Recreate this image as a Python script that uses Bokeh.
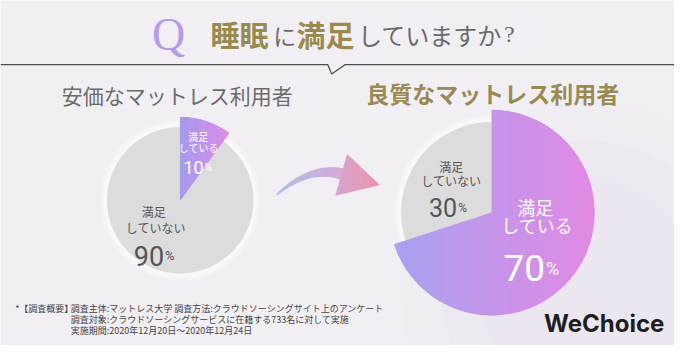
import numpy as np
from bokeh.plotting import figure
from bokeh.models import Range1d
from bokeh.core.properties import value
from bokeh.embed import file_html
from bokeh.resources import INLINE

# ---------------- data ----------------
question_parts = ["睡眠", "に", "満足", "していますか", "?"]
group_labels = ["安価なマットレス利用者", "良質なマットレス利用者"]
satisfied_pct = [10, 70]
unsatisfied_pct = [90, 30]
label_sat = ["満足", "している"]
label_unsat = ["満足", "していない"]
footnote_head = "*【調査概要】"
footnote_lines = [
    "調査主体:マットレス大学 調査方法:クラウドソーシングサイト上のアンケート",
    "調査対象:クラウドソーシングサービスに在籍する733名に対して実施",
    "実施期間:2020年12月20日〜2020年12月24日",
]
brand = "WeChoice"

# ---------------- figure ----------------
W, H = 690, 361
PW, PH = 674, 345
SX, SY = PW / W, PH / H
ASP = SX / SY  # y-correction so circles stay round on screen

def fy(v):
    return H - np.asarray(v, dtype=float)

BG = "#f1eff3"
p = figure(width=PW, height=PH, x_range=Range1d(0, W), y_range=Range1d(0, H),
           output_backend="svg", toolbar_location=None, min_border=0,
           x_axis_type=None, y_axis_type=None)
p.grid.visible = False
p.outline_line_color = None
p.background_fill_color = BG
p.border_fill_color = BG

JP = "Noto Sans CJK JP"

def T(x, y, s, size, color, font=JP, bold=False, align="center", baseline="middle"):
    p.text(x=[x], y=[float(fy(y))], text=[s], text_font=value(font),
           text_font_size=f"{size}px", text_color=color, text_align=align,
           text_baseline=baseline, text_font_style="bold" if bold else "normal")

def hex2rgb(h):
    h = h.lstrip("#")
    return np.array([int(h[i:i + 2], 16) for i in (0, 2, 4)], dtype=float)

def lerp(c0, c1, t):
    c = hex2rgb(c0) * (1 - t) + hex2rgb(c1) * t
    return "#%02x%02x%02x" % tuple(int(round(v)) for v in c)

def clip_strip(poly, x0, x1):
    def clip(pts, keep, xc):
        out = []
        n = len(pts)
        for i in range(n):
            a, b = pts[i], pts[(i + 1) % n]
            ka, kb = keep(a), keep(b)
            if ka:
                out.append(a)
            if ka != kb:
                t = (xc - a[0]) / (b[0] - a[0])
                out.append((xc, a[1] + t * (b[1] - a[1])))
        return out
    pts = clip(poly, lambda q: q[0] >= x0, x0)
    if len(pts) < 3:
        return []
    return clip(pts, lambda q: q[0] <= x1, x1)

def gradient_fill(poly, c0, c1, n=48):
    xs = [q[0] for q in poly]
    xmin, xmax = min(xs), max(xs)
    XS, YS, CS = [], [], []
    for i in range(n):
        a = xmin + (xmax - xmin) * i / n
        b = xmin + (xmax - xmin) * (i + 1) / n
        piece = clip_strip(poly, a - 0.4, b + 0.4)
        if len(piece) < 3:
            continue
        XS.append([q[0] for q in piece])
        YS.append(list(fy([q[1] for q in piece])))
        CS.append(lerp(c0, c1, (i + 0.5) / n))
    p.patches(XS, YS, fill_color=CS, line_color=CS, line_width=0.3)

# background haze
for r, a in [(190, 0.10), (150, 0.12), (110, 0.12)]:
    p.circle(x=[600], y=[float(fy(300))], radius=r, fill_color="#e2d3ef", fill_alpha=a, line_color=None)

# ---------------- header ----------------
T(172, 36, "Q", 46, "#b69ce8", font="Liberation Serif")
GOLD = "#9a8a4e"
GREY = "#6b6b6b"
T(215, 35, question_parts[0], 29, GOLD, bold=True, align="left")
T(291, 36, question_parts[1], 23, GREY, align="center")
T(303, 35, question_parts[2], 29, GOLD, bold=True, align="left")
T(366, 36, question_parts[3], 24, GREY, align="left")
T(521, 35, question_parts[4], 24, GREY, font="Liberation Serif", align="center")

p.line(x=[0, 335, 339, 353, 690], y=fy([67, 67, 77, 67, 67]), line_color="#4d4d4d", line_width=1.2)

T(181, 99, group_labels[0], 21, "#6b6b6b", align="center")
T(504, 97, group_labels[1], 23, "#9a8a52", bold=True, align="center")

# ---------------- pies ----------------
pies = [
    dict(cx=184, cy=209, rg=75, rc=85, c0="#a59cf0", c1="#dc8de6"),
    dict(cx=503, cy=222, rg=93, rc=105, c0="#a9a1ef", c1="#e18ae4"),
]
GRAY_PIE = "#dcdcdc"
for k, pie in enumerate(pies):
    cx, cy = pie["cx"], pie["cy"]
    f = satisfied_pct[k] / 100.0
    # soft white halo
    for dr, a in [(7, 0.25), (4, 0.4)]:
        p.circle(x=[cx], y=[float(fy(cy))], radius=pie["rg"] + dr, fill_color="white", fill_alpha=a, line_color=None)
    # unsatisfied slice
    p.wedge(x=[cx], y=[float(fy(cy))], radius=pie["rg"],
            start_angle=np.pi / 2 - 2 * np.pi * f, end_angle=np.pi / 2, direction="clock",
            fill_color=GRAY_PIE, line_color=None)
    # satisfied slice (base + gradient overlay)
    p.wedge(x=[cx], y=[float(fy(cy))], radius=pie["rc"],
            start_angle=np.pi / 2, end_angle=np.pi / 2 - 2 * np.pi * f, direction="clock",
            fill_color=lerp(pie["c0"], pie["c1"], 0.5), line_color=None)
    th = np.linspace(0, 2 * np.pi * f, 140)
    poly = [(cx, cy)] + [(cx + pie["rc"] * np.sin(t), cy - pie["rc"] * np.cos(t) * ASP) for t in th]
    gradient_fill(poly, pie["c0"], pie["c1"])

def pct(xsplit, ybase, num, size, psize, color):
    T(xsplit, ybase, str(num), size, color, font="Roboto", align="right", baseline="alphabetic")
    T(xsplit + 1, ybase, "%", psize, color, font="Roboto", align="left", baseline="alphabetic")

DARK = "#555555"
# left pie labels
T(202.5, 142.5, label_sat[0], 10, "white")
T(203, 153.5, label_sat[1], 10, "white")
pct(208, 175, satisfied_pct[0], 18, 10, "white")
T(157, 221, label_unsat[0], 12, DARK)
T(159, 237.5, label_unsat[1], 12, DARK)
pct(167.5, 267, unsatisfied_pct[0], 27, 13, DARK)
# right pie labels
T(461.5, 174, label_unsat[0], 12, DARK)
T(461.5, 188.5, label_unsat[1], 12, DARK)
pct(467.5, 217, unsatisfied_pct[1], 25, 12, DARK)
T(547.5, 216, label_sat[0], 18, "white")
T(549.5, 235, label_sat[1], 18, "white")
pct(557.5, 280, satisfied_pct[1], 37, 18, "white")

# ---------------- arrow ----------------
P0, P1, P2 = np.array([283.0, 203.0]), np.array([318.0, 172.0]), np.array([351.0, 182.0])
ts = np.linspace(0, 1, 31)
pts = ((1 - ts) ** 2)[:, None] * P0 + (2 * (1 - ts) * ts)[:, None] * P1 + (ts ** 2)[:, None] * P2
d = 2 * (1 - ts)[:, None] * (P1 - P0) + 2 * ts[:, None] * (P2 - P1)
nrm = np.stack([-d[:, 1], d[:, 0]], 1) / np.linalg.norm(d, axis=1)[:, None]
w = 0.8 + 5.2 * ts
Lp = pts + nrm * w[:, None]
Rp = pts - nrm * w[:, None]
QX, QY, QC = [], [], []
for i in range(len(ts) - 1):
    quad = [Lp[i], Lp[i + 1], Rp[i + 1], Rp[i]]
    QX.append([q[0] for q in quad])
    QY.append(list(fy([q[1] for q in quad])))
    QC.append(lerp("#aebfe9", "#d6a6d3", (i + 0.5) / (len(ts) - 1)))
p.patches(QX, QY, fill_color=QC, line_color=QC, line_width=0.5)
gradient_fill([(355, 161), (388, 193), (343, 204)], "#d7a4d1", "#ec97b0", n=20)

# ---------------- footer ----------------
T(15, 322, footnote_head, 9, "#444444", align="left")
for i, line in enumerate(footnote_lines):
    T(72, 322 + 11.8 * i, line, 9, "#444444", align="left")

T(618, 338, brand, 24, "#1e1e1e", font="Inter", bold=True)

html = file_html(p, INLINE)
html = html.replace("<body>", '<body style="background-color:#f1eff3;">', 1)
open("out.html", "w").write(html)
